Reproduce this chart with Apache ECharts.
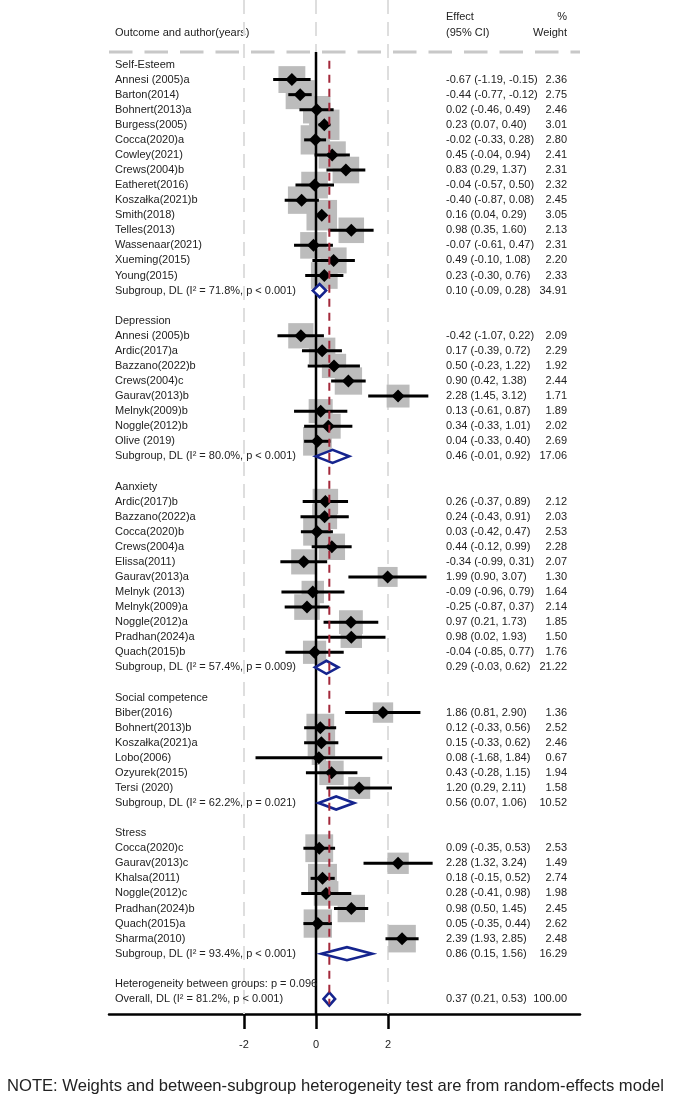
<!DOCTYPE html>
<html>
<head>
<meta charset="utf-8">
<script src="https://cdn.jsdelivr.net/npm/echarts@6/dist/echarts.min.js"></script>
<style>
  html, body { margin: 0; padding: 0; background: #ffffff; }
  #chart { width: 685px; height: 1108px; }
</style>
</head>
<body>
<div id="chart"></div>
<script>
// ---------------- DATA ----------------
const groupNames = ['Self-Esteem', 'Depression', 'Aanxiety', 'Social competence', 'Stress'];

const studyNames = [
  'Annesi (2005)a', 'Barton(2014)', 'Bohnert(2013)a', 'Burgess(2005)', 'Cocca(2020)a', 'Cowley(2021)', 'Crews(2004)b',
  'Eatheret(2016)', 'Koszałka(2021)b', 'Smith(2018)', 'Telles(2013)', 'Wassenaar(2021)', 'Xueming(2015)', 'Young(2015)',
  'Annesi (2005)b', 'Ardic(2017)a', 'Bazzano(2022)b', 'Crews(2004)c', 'Gaurav(2013)b', 'Melnyk(2009)b', 'Noggle(2012)b', 'Olive (2019)',
  'Ardic(2017)b', 'Bazzano(2022)a', 'Cocca(2020)b', 'Crews(2004)a', 'Elissa(2011)', 'Gaurav(2013)a', 'Melnyk (2013)',
  'Melnyk(2009)a', 'Noggle(2012)a', 'Pradhan(2024)a', 'Quach(2015)b',
  'Biber(2016)', 'Bohnert(2013)b', 'Koszałka(2021)a', 'Lobo(2006)', 'Ozyurek(2015)', 'Tersi (2020)',
  'Cocca(2020)c', 'Gaurav(2013)c', 'Khalsa(2011)', 'Noggle(2012)c', 'Pradhan(2024)b', 'Quach(2015)a', 'Sharma(2010)'
];
const studyGroup = [
  0,0,0,0,0,0,0,0,0,0,0,0,0,0,
  1,1,1,1,1,1,1,1,
  2,2,2,2,2,2,2,2,2,2,2,
  3,3,3,3,3,3,
  4,4,4,4,4,4,4
];
const studyEst = [
  -0.67, -0.44, 0.02, 0.23, -0.02, 0.45, 0.83, -0.04, -0.40, 0.16, 0.98, -0.07, 0.49, 0.23,
  -0.42, 0.17, 0.50, 0.90, 2.28, 0.13, 0.34, 0.04,
  0.26, 0.24, 0.03, 0.44, -0.34, 1.99, -0.09, -0.25, 0.97, 0.98, -0.04,
  1.86, 0.12, 0.15, 0.08, 0.43, 1.20,
  0.09, 2.28, 0.18, 0.28, 0.98, 0.05, 2.39
];
const studyLo = [
  -1.19, -0.77, -0.46, 0.07, -0.33, -0.04, 0.29, -0.57, -0.87, 0.04, 0.35, -0.61, -0.10, -0.30,
  -1.07, -0.39, -0.23, 0.42, 1.45, -0.61, -0.33, -0.33,
  -0.37, -0.43, -0.42, -0.12, -0.99, 0.90, -0.96, -0.87, 0.21, 0.02, -0.85,
  0.81, -0.33, -0.33, -1.68, -0.28, 0.29,
  -0.35, 1.32, -0.15, -0.41, 0.50, -0.35, 1.93
];
const studyHi = [
  -0.15, -0.12, 0.49, 0.40, 0.28, 0.94, 1.37, 0.50, 0.08, 0.29, 1.60, 0.47, 1.08, 0.76,
  0.22, 0.72, 1.22, 1.38, 3.12, 0.87, 1.01, 0.40,
  0.89, 0.91, 0.47, 0.99, 0.31, 3.07, 0.79, 0.37, 1.73, 1.93, 0.77,
  2.90, 0.56, 0.62, 1.84, 1.15, 2.11,
  0.53, 3.24, 0.52, 0.98, 1.45, 0.44, 2.85
];
const studyWeight = [
  2.36, 2.75, 2.46, 3.01, 2.80, 2.41, 2.31, 2.32, 2.45, 3.05, 2.13, 2.31, 2.20, 2.33,
  2.09, 2.29, 1.92, 2.44, 1.71, 1.89, 2.02, 2.69,
  2.12, 2.03, 2.53, 2.28, 2.07, 1.30, 1.64, 2.14, 1.85, 1.50, 1.76,
  1.36, 2.52, 2.46, 0.67, 1.94, 1.58,
  2.53, 1.49, 2.74, 1.98, 2.45, 2.62, 2.48
];

const subgroupLabels = [
  'Subgroup, DL (I² = 71.8%, p < 0.001)',
  'Subgroup, DL (I² = 80.0%, p < 0.001)',
  'Subgroup, DL (I² = 57.4%, p = 0.009)',
  'Subgroup, DL (I² = 62.2%, p = 0.021)',
  'Subgroup, DL (I² = 93.4%, p < 0.001)'
];
const subgroupEst = [0.10, 0.46, 0.29, 0.56, 0.86];
const subgroupLo = [-0.09, -0.01, -0.03, 0.07, 0.15];
const subgroupHi = [0.28, 0.92, 0.62, 1.06, 1.56];
const subgroupWeight = [34.91, 17.06, 21.22, 10.52, 16.29];

const heterogeneityText = 'Heterogeneity between groups: p = 0.096';
const overallLabel = 'Overall, DL (I² = 81.2%, p < 0.001)';
const overallEst = 0.37;
const overallLo = 0.21;
const overallHi = 0.53;
const overallWeight = 100.00;

const xTickValues = [-2, 0, 2];
const headerLeft = 'Outcome and author(years)';
const headerEffect = ['Effect', '(95% CI)'];
const headerWeight = ['%', 'Weight'];
const noteText = 'NOTE: Weights and between-subgroup heterogeneity test are from random-effects model';

// ---------------- LAYOUT ----------------
const X_MIN = -5.75, X_MAX = 7.333;
const Y_MIN = -3.28, Y_MAX = 64;
const HEADER_ROW = 0.17;
const FONT = '"Liberation Sans", Arial, sans-serif';
const TXT = '#222222';
const LABEL_X = 115, EFFECT_X = 446, WEIGHT_X = 567;
const NAVY = '#15248e';
const MAROON = '#a3283a';

// build rows
const rows = [];
let r = 1;
groupNames.forEach((g, gi) => {
  rows.push({ row: r++, kind: 'header', label: g });
  studyNames.forEach((n, i) => {
    if (studyGroup[i] === gi) {
      rows.push({ row: r++, kind: 'study', label: n, est: studyEst[i], lo: studyLo[i], hi: studyHi[i], w: studyWeight[i] });
    }
  });
  rows.push({ row: r++, kind: 'subgroup', label: subgroupLabels[gi], est: subgroupEst[gi], lo: subgroupLo[gi], hi: subgroupHi[gi], w: subgroupWeight[gi] });
  r++;
});
rows.push({ row: r++, kind: 'het', label: heterogeneityText });
rows.push({ row: r++, kind: 'overall', label: overallLabel, est: overallEst, lo: overallLo, hi: overallHi, w: overallWeight });
const OVERALL_ROW = rows[rows.length - 1].row;

const fmt = v => v.toFixed(2);
const studyRows = rows.filter(d => d.kind === 'study');
const poolRows = rows.filter(d => d.kind === 'subgroup' || d.kind === 'overall');

function textEl(text, x, y, align, size) {
  return { type: 'text', style: { text, x, y, align: align || 'left', verticalAlign: 'middle', fill: TXT, fontSize: size || 11, fontFamily: FONT } };
}

const chart = echarts.init(document.getElementById('chart'));
chart.setOption({
  animation: false,
  backgroundColor: '#ffffff',
  grid: { left: 109, right: 105, top: 0, bottom: 94 },
  xAxis: {
    type: 'value', min: X_MIN, max: X_MAX, position: 'bottom',
    axisLine: { show: true, onZero: false, lineStyle: { color: '#000', width: 2.5 } },
    axisTick: { show: true, customValues: xTickValues, length: 15, lineStyle: { color: '#000', width: 2.5 } },
    axisLabel: { show: true, customValues: xTickValues, margin: 25, fontSize: 11, color: TXT, fontFamily: FONT },
    splitLine: { show: false }
  },
  yAxis: { type: 'value', min: Y_MIN, max: Y_MAX, inverse: true, show: false },
  graphic: [
    { type: 'text', left: LABEL_X, top: 27, style: { text: headerLeft, fill: TXT, fontSize: 11, fontFamily: FONT } },
    { type: 'text', left: EFFECT_X, top: 11, style: { text: headerEffect[0], fill: TXT, fontSize: 11, fontFamily: FONT } },
    { type: 'text', left: EFFECT_X, top: 27, style: { text: headerEffect[1], fill: TXT, fontSize: 11, fontFamily: FONT } },
    { type: 'text', right: 685 - WEIGHT_X, top: 11, style: { text: headerWeight[0], fill: TXT, fontSize: 11, fontFamily: FONT } },
    { type: 'text', right: 685 - WEIGHT_X, top: 27, style: { text: headerWeight[1], fill: TXT, fontSize: 11, fontFamily: FONT } },
    { type: 'text', left: 7, top: 1078, style: { text: noteText, fill: TXT, fontSize: 16.6, fontFamily: FONT } }
  ],
  series: [
    { // light gray dashed gridlines
      type: 'custom', z: 1, data: xTickValues.map(v => [v, 0]),
      renderItem: (params, api) => {
        const v = api.value(0);
        const a = api.coord([v, Y_MIN]), b = api.coord([v, Y_MAX]);
        return { type: 'line', shape: { x1: a[0], y1: a[1], x2: b[0], y2: b[1] },
          style: { stroke: '#dedede', lineWidth: 2, lineDash: [14, 8] } };
      }
    },
    { // header dashed rule
      type: 'custom', z: 2, data: [[X_MIN, HEADER_ROW]],
      renderItem: (params, api) => {
        const a = api.coord([X_MIN, HEADER_ROW]), b = api.coord([X_MAX, HEADER_ROW]);
        return { type: 'line', shape: { x1: a[0], y1: a[1], x2: b[0], y2: b[1] },
          style: { stroke: '#c8c8c8', lineWidth: 3, lineDash: [23.5, 12] } };
      }
    },
    { // weight boxes
      type: 'custom', z: 3, data: studyRows.map(d => [d.est, d.row, d.w]),
      renderItem: (params, api) => {
        const c = api.coord([api.value(0), api.value(1)]);
        const s = 17.5 * Math.sqrt(api.value(2));
        return { type: 'rect', shape: { x: c[0] - s / 2, y: c[1] - s / 2, width: s, height: s },
          style: { fill: '#bcbcbc' } };
      }
    },
    { // null line
      type: 'custom', z: 4, data: [[0, HEADER_ROW]],
      renderItem: (params, api) => {
        const a = api.coord([0, HEADER_ROW]), b = api.coord([0, Y_MAX]);
        return { type: 'line', shape: { x1: a[0], y1: a[1], x2: b[0], y2: b[1] },
          style: { stroke: '#000', lineWidth: 2.5 } };
      }
    },
    { // CI lines and point diamonds
      type: 'custom', z: 5, data: studyRows.map(d => [d.est, d.row, d.lo, d.hi]),
      renderItem: (params, api) => {
        const row = api.value(1);
        const c = api.coord([api.value(0), row]);
        const lo = api.coord([api.value(2), row]), hi = api.coord([api.value(3), row]);
        const h = 6.5;
        return { type: 'group', children: [
          { type: 'line', shape: { x1: lo[0], y1: lo[1], x2: hi[0], y2: hi[1] }, style: { stroke: '#000', lineWidth: 3 } },
          { type: 'polygon', shape: { points: [[c[0] - h, c[1]], [c[0], c[1] - h], [c[0] + h, c[1]], [c[0], c[1] + h]] }, style: { fill: '#000' } }
        ] };
      }
    },
    { // pooled diamonds
      type: 'custom', z: 6, data: poolRows.map(d => [d.est, d.row, d.lo, d.hi]),
      renderItem: (params, api) => {
        const row = api.value(1);
        const c = api.coord([api.value(0), row]);
        const lo = api.coord([api.value(2), row]), hi = api.coord([api.value(3), row]);
        const h = 6.5;
        return { type: 'polygon', shape: { points: [[lo[0], c[1]], [c[0], c[1] - h], [hi[0], c[1]], [c[0], c[1] + h]] },
          style: { fill: '#fff', stroke: NAVY, lineWidth: 2.6 } };
      }
    },
    { // overall effect dashed line
      type: 'custom', z: 7, data: [[overallEst, OVERALL_ROW]],
      renderItem: (params, api) => {
        const v = api.value(0);
        const a = api.coord([v, 0.75]), b = api.coord([v, api.value(1) + 0.35]);
        return { type: 'line', shape: { x1: a[0], y1: a[1], x2: b[0], y2: b[1] },
          style: { stroke: MAROON, lineWidth: 2, lineDash: [8, 6] } };
      }
    },
    { // text columns
      type: 'custom', z: 8, data: rows.map(d => [0, d.row]),
      renderItem: (params, api) => {
        const d = rows[params.dataIndex];
        const y = api.coord([0, d.row])[1];
        const children = [textEl(d.label, LABEL_X, y, 'left')];
        if (d.est !== undefined) {
          children.push(textEl(fmt(d.est) + ' (' + fmt(d.lo) + ', ' + fmt(d.hi) + ')', EFFECT_X, y, 'left'));
          children.push(textEl(fmt(d.w), WEIGHT_X, y, 'right'));
        }
        return { type: 'group', children };
      }
    }
  ]
});
</script>
</body>
</html>
